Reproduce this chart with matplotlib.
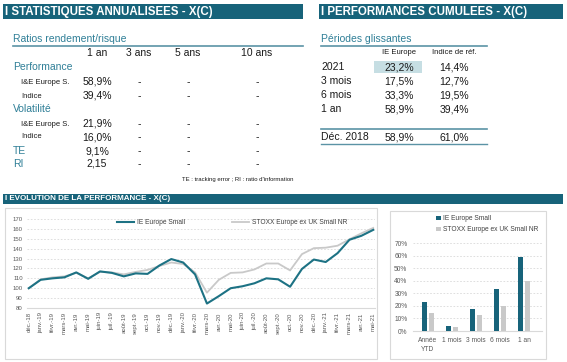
import matplotlib
matplotlib.use('Agg')
import matplotlib.pyplot as plt
from matplotlib.patches import Rectangle
from matplotlib.lines import Line2D
import numpy as np

# --- table data ---
stat_cols = ['1 an', '3 ans', '5 ans', '10 ans']
stat_labels = ['I&E Europe S.', 'Indice', 'I&E Europe S.', 'Indice', 'TE', 'RI']
stat_1an = ['58,9%', '39,4%', '21,9%', '16,0%', '9,1%', '2,15']

cum_periods = ['2021', '3 mois', '6 mois', '1 an']
cum_fund = ['23,2%', '17,5%', '33,3%', '58,9%']
cum_ref = ['14,4%', '12,7%', '19,5%', '39,4%']
since_label = 'Déc. 2018'
since_fund = '58,9%'
since_ref = '61,0%'

# --- line chart data ---
months = ['déc.-18', 'janv.-19', 'févr.-19', 'mars-19', 'avr.-19', 'mai-19', 'juin-19',
          'juil.-19', 'août-19', 'sept.-19', 'oct.-19', 'nov.-19', 'déc.-19', 'janv.-20',
          'févr.-20', 'mars-20', 'avr.-20', 'mai-20', 'juin-20', 'juil.-20', 'août-20',
          'sept.-20', 'oct.-20', 'nov.-20', 'déc.-20', 'janv.-21', 'févr.-21', 'mars-21',
          'avr.-21', 'mai-21']
fund = [100, 108.5, 110, 111, 116, 109.5, 117, 115.5, 112, 115, 114.5, 123, 129.5, 126,
        114, 84.5, 92, 100, 102, 105, 110, 109, 101.5, 119.5, 129, 126.5, 135.5, 149, 153, 159]
index = [100, 109, 111, 112, 115.5, 110, 116.5, 116, 114, 116.5, 118.5, 122.5, 126, 124.5,
         116, 95.5, 108.5, 115.5, 116, 119, 125, 125, 118, 134.5, 140.5, 141, 143, 149.5, 155.5, 161]

# --- bar chart data ---
bar_cats = ['Année\nYTD', '1 mois', '3 mois', '6 mois', '1 an']
bar_fund = [23.2, 4.0, 17.5, 33.3, 58.9]
bar_index = [14.4, 3.1, 12.7, 19.5, 39.4]

W, H = 567, 362
DARK = '#17637a'
TEAL = '#2f7f97'
LINE_TEAL = '#1d7284'
GREY = '#c9c9c9'
TXT = '#1a1a1a'

plt.rcParams['font.family'] = ['Liberation Sans', 'DejaVu Sans']

fig = plt.figure(figsize=(W / 100, H / 100), dpi=100)


def fx(x):
    return x / W


def fy(y):
    return 1 - y / H


def rect(l, t, r, b):
    return [l / W, 1 - b / H, (r - l) / W, (b - t) / H]


def box(l, t, r, b, **kw):
    fig.add_artist(Rectangle((fx(l), fy(b)), (r - l) / W, (b - t) / H,
                             transform=fig.transFigure, **kw))


def hline(x0, x1, y, color=TEAL, lw=1.2):
    fig.add_artist(Line2D([fx(x0), fx(x1)], [fy(y), fy(y)], color=color, lw=lw,
                          transform=fig.transFigure))


def txt(x, y, s, size=7.5, color=TXT, ha='left', **kw):
    fig.text(fx(x), fy(y), s, fontsize=size, color=color, ha=ha, va='center', **kw)


# header bars
box(3, 4, 303, 18.5, color=DARK, lw=0)
box(319, 4, 563, 18.5, color=DARK, lw=0)
box(3, 194, 563, 203.5, color=DARK, lw=0)
txt(5, 11.5, 'I STATISTIQUES ANNUALISEES - X(C)', size=8.3, color='white', weight='bold')
txt(321, 11.5, 'I PERFORMANCES CUMULEES - X(C)', size=8.3, color='white', weight='bold')
txt(5, 198.8, 'I EVOLUTION DE LA PERFORMANCE - X(C)', size=5.8, color='white', weight='bold')

# left table
txt(13, 39, 'Ratios rendement/risque', color=TEAL)
hline(13, 303, 46, color='#5b93a5')
col_x = [97, 139, 188, 257]
for cx, c in zip(col_x, stat_cols):
    txt(cx, 53, c, ha='center')
txt(13, 67, 'Performance', color=TEAL)
txt(13, 109, 'Volatilité', color=TEAL)
row_y = [82, 96, 124, 137, 151, 164]
for i, (lab, val, ry) in enumerate(zip(stat_labels, stat_1an, row_y)):
    if lab in ('TE', 'RI'):
        txt(13, ry, lab, color=TEAL)
    else:
        txt(21, ry, lab, size=5.5)
    txt(col_x[0], ry, val, ha='center')
    for cx in col_x[1:]:
        txt(cx, ry, '-', ha='center')
txt(293, 179, "TE : tracking error ; RI : ratio d'information", size=4.3, ha='right')

# right table
txt(321, 39, 'Périodes glissantes', color=TEAL)
hline(321, 487, 46, color='#5b93a5')
txt(399, 53, 'IE Europe', size=5.5, ha='center')
txt(454, 53, 'Indice de réf.', size=5.5, ha='center')
box(374, 61, 422, 73, color='#c6dee3', lw=0)
cum_y = [67, 81, 95, 109]
for p, a, b, ry in zip(cum_periods, cum_fund, cum_ref, cum_y):
    txt(321, ry, p)
    txt(399, ry, a, ha='center')
    txt(454, ry, b, ha='center')
hline(321, 487, 129, color='#5b93a5')
txt(321, 137, since_label)
txt(399, 137, since_fund, ha='center')
txt(454, 137, since_ref, ha='center')
hline(321, 487, 144, color='#5b93a5', lw=1.0)

# chart frames
box(5, 208, 377, 359, fill=False, edgecolor='#d9d9d9', lw=0.8)
box(390, 211, 546, 359, fill=False, edgecolor='#d9d9d9', lw=0.8)

# line chart
ax = fig.add_axes(rect(27, 219, 375, 308))
x = np.arange(len(months))
ax.plot(x, index, color=GREY, lw=1.3, label='STOXX Europe ex UK Small NR')
ax.plot(x, fund, color=LINE_TEAL, lw=1.5, label='IE Europe Small')
ax.set_ylim(80, 170)
ax.set_xlim(-0.15, len(months) - 0.85)
ax.set_yticks(range(80, 171, 10))
ax.set_xticks(x)
ax.set_xticklabels(months, rotation=90)
ax.tick_params(length=0, labelsize=4.3, colors='#595959', pad=3)
ax.yaxis.grid(True, linestyle=(0, (2, 2)), color='#d9d9d9', lw=0.6)
ax.set_axisbelow(True)
for s in ['top', 'right', 'left']:
    ax.spines[s].set_visible(False)
ax.spines['bottom'].set_color('#d9d9d9')
ax.spines['bottom'].set_linewidth(0.8)
h, l = ax.get_legend_handles_labels()
ax.legend(h[::-1], l[::-1], ncol=2, loc='center', bbox_to_anchor=(fx(232), fy(223)),
          bbox_transform=fig.transFigure, frameon=False, fontsize=4.8,
          handlelength=2.6, handletextpad=0.4, columnspacing=7.0, borderpad=0,
          labelcolor='#404040')

# bar chart
bx = fig.add_axes(rect(413, 243, 542, 331))
bp = np.arange(len(bar_cats))
bx.bar(bp - 0.14, bar_fund, width=0.22, color=DARK, label='IE Europe Small', zorder=3)
bx.bar(bp + 0.14, bar_index, width=0.22, color=GREY, label='STOXX Europe ex UK Small NR', zorder=3)
bx.set_ylim(0, 70)
bx.set_xlim(-0.62, 4.75)
bx.set_yticks(range(0, 71, 10))
bx.set_yticklabels([f'{v}%' for v in range(0, 71, 10)])
bx.set_xticks(bp)
bx.set_xticklabels(bar_cats, linespacing=1.5, va='top')
bx.tick_params(length=0, labelsize=4.8, colors='#595959', pad=4)
bx.yaxis.grid(True, linestyle=(0, (2, 2)), color='#d9d9d9', lw=0.6)
bx.set_axisbelow(True)
for s in ['top', 'right', 'left']:
    bx.spines[s].set_visible(False)
bx.spines['bottom'].set_color('#d9d9d9')
bx.spines['bottom'].set_linewidth(0.8)
bx.legend(loc='upper left', bbox_to_anchor=(fx(433), fy(212)), bbox_transform=fig.transFigure,
          frameon=False, fontsize=4.8, handlelength=0.7, handleheight=0.7,
          handletextpad=0.3, labelspacing=0.6, borderpad=0, labelcolor='#404040')

fig.savefig('out.png', dpi=100)
